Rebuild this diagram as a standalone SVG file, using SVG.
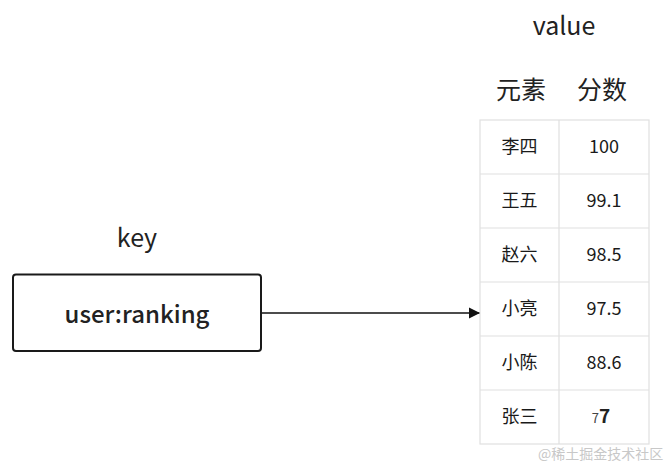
<svg xmlns="http://www.w3.org/2000/svg" width="671" height="466" viewBox="0 0 671 466">
<style>
text{font-family:"Noto Sans CJK SC","Noto Sans",sans-serif;fill:#222;}
.lbl{font-size:25px;text-anchor:middle;font-weight:400;}
.cell{font-size:18px;text-anchor:middle;font-weight:400;fill:#1a1a1a;}
.grid{stroke:#e0e0e0;stroke-width:1.2;fill:none;}
.wm{font-size:14px;fill:#c8c8c8;}
</style>
<defs>
<marker id="arr" markerWidth="12" markerHeight="12" refX="11" refY="6" orient="auto" markerUnits="userSpaceOnUse">
<path d="M0,0.5 L11,6 L0,11.5 Z" fill="#111"/>
</marker>
</defs>
<rect width="671" height="466" fill="#fff"/>
<g id="key-node">
<text class="lbl" x="137" y="247">key</text>
<rect x="13" y="274.5" width="248" height="76.5" rx="3" fill="#fff" stroke="#1a1a1a" stroke-width="2"/>
<text x="137" y="323" font-size="24" font-weight="500" text-anchor="middle">user:ranking</text>
</g>
<g id="connectors">
<line x1="262" y1="313" x2="480" y2="313" stroke="#111" stroke-width="1.6" marker-end="url(#arr)"/>
</g>
<g id="value-table">
<text class="lbl" x="564" y="35">value</text>
<text class="lbl" x="521" y="99">元素</text>
<text class="lbl" x="602" y="99">分数</text>
<rect class="grid" x="480" y="120" width="169" height="324"/>
<line class="grid" x1="559" y1="120" x2="559" y2="444"/>
<line class="grid" x1="480" y1="174" x2="649" y2="174"/>
<line class="grid" x1="480" y1="228" x2="649" y2="228"/>
<line class="grid" x1="480" y1="282" x2="649" y2="282"/>
<line class="grid" x1="480" y1="336" x2="649" y2="336"/>
<line class="grid" x1="480" y1="390" x2="649" y2="390"/>
<text class="cell" x="519.5" y="153">李四</text><text class="cell" x="604" y="153">100</text>
<text class="cell" x="519.5" y="207">王五</text><text class="cell" x="604" y="207">99.1</text>
<text class="cell" x="519.5" y="261">赵六</text><text class="cell" x="604" y="261">98.5</text>
<text class="cell" x="519.5" y="315">小亮</text><text class="cell" x="604" y="315">97.5</text>
<text class="cell" x="519.5" y="369">小陈</text><text class="cell" x="604" y="369">88.6</text>
<text class="cell" x="519.5" y="423">张三</text>
<text x="601" y="423" text-anchor="middle"><tspan font-size="13" fill="#444">7</tspan><tspan font-size="19" font-weight="700">7</tspan></text>
</g>
<text class="wm" x="538" y="459">@稀土掘金技术社区</text>
</svg>
